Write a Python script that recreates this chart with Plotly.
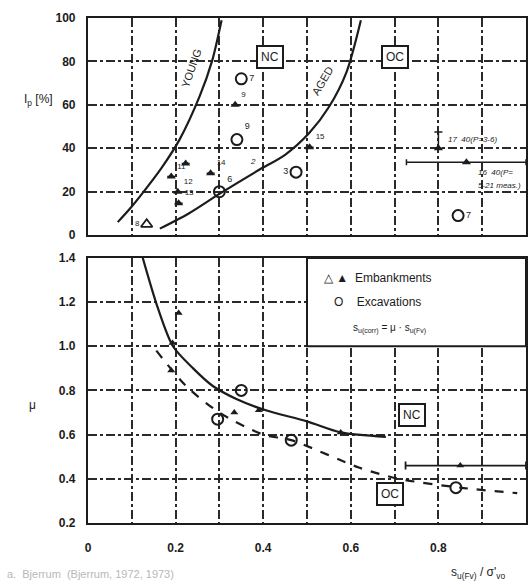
import plotly.graph_objects as go

INK = "#1c1c1c"
FONT = "Liberation Sans"

# ---- upper panel: plasticity index vs. strength ratio ----
young_x = [0.068, 0.097, 0.125, 0.168, 0.209, 0.255, 0.283, 0.305]
young_ip = [6, 12.5, 19.5, 31, 44, 64, 80, 99]
aged_x = [0.164, 0.23, 0.30, 0.39, 0.45, 0.505, 0.55, 0.59, 0.623]
aged_ip = [3, 10, 19, 30, 37, 47, 59, 75, 99]

emb_x = [0.336, 0.28, 0.223, 0.19, 0.205, 0.207, 0.506, 0.80]
emb_ip = [60, 28.5, 33, 27, 20, 14.7, 40.5, 40]
emb_lab = ["9", "14", "", "11", "12", "13", "15", ""]

emb16_x = [0.864]
emb16_ip = [33.6]
emb16_lo = [0.727]
emb16_hi = [1.0]

emb_open_x = [0.134]
emb_open_ip = [5]

exc_x = [0.35, 0.34, 0.30, 0.475, 0.845]
exc_ip = [72, 44, 20, 29, 9]
exc_lab = ["7", "9", "6", "3", "7"]

# ---- lower panel: correction factor mu ----
nc_x = [0.125, 0.16, 0.194, 0.24, 0.285, 0.34, 0.406, 0.5, 0.577, 0.68]
nc_mu = [1.40, 1.17, 1.00, 0.90, 0.82, 0.76, 0.71, 0.66, 0.61, 0.59]
oc_x = [0.156, 0.224, 0.30, 0.40, 0.464, 0.62, 0.71, 0.85, 0.98]
oc_mu = [0.98, 0.82, 0.70, 0.60, 0.575, 0.45, 0.40, 0.36, 0.335]

mu_emb_x = [0.207, 0.193, 0.19, 0.334, 0.39, 0.577]
mu_emb = [1.15, 1.015, 0.89, 0.70, 0.71, 0.61]
mu_emb_range_x = [0.85]
mu_emb_range = [0.46]
mu_emb_range_lo = [0.725]
mu_emb_range_hi = [1.0]

mu_exc_x = [0.296, 0.35, 0.464, 0.84]
mu_exc = [0.67, 0.80, 0.575, 0.36]

ip_ticks = [0, 20, 40, 60, 80, 100]
mu_ticks = [0.2, 0.4, 0.6, 0.8, 1.0, 1.2, 1.4]
x_ticks = [0, 0.2, 0.4, 0.6, 0.8, 1.0]
x_tick_text = ["0", "0.2", "0.4", "0.6", "0.8", "1.0"]

fig = go.Figure()

curve = dict(color=INK, width=2.2, shape="spline", smoothing=0.8)
fig.add_trace(go.Scatter(x=young_x, y=young_ip, mode="lines", line=curve,
                         xaxis="x", yaxis="y"))
fig.add_trace(go.Scatter(x=aged_x, y=aged_ip, mode="lines", line=curve,
                         xaxis="x", yaxis="y"))

tri = dict(symbol="triangle-up", size=8, color=INK)
circ = dict(symbol="circle-open", size=11, color=INK, line=dict(width=2, color=INK))

fig.add_trace(go.Scatter(
    x=emb_x, y=emb_ip, mode="markers+text", marker=tri,
    text=emb_lab, textposition="top right",
    textfont=dict(size=8, color=INK, family=FONT),
    error_y=dict(type="data", symmetric=False,
                 array=[0, 0, 0, 0, 0, 0, 0, 7.5], arrayminus=[0] * 8,
                 color=INK, thickness=1.5, width=4),
    xaxis="x", yaxis="y"))
fig.add_trace(go.Scatter(
    x=emb16_x, y=emb16_ip, mode="markers", marker=tri,
    error_x=dict(type="data", symmetric=False,
                 array=[h - v for h, v in zip(emb16_hi, emb16_x)],
                 arrayminus=[v - l for l, v in zip(emb16_lo, emb16_x)],
                 color=INK, thickness=1.5, width=3),
    xaxis="x", yaxis="y"))
fig.add_trace(go.Scatter(
    x=emb_open_x, y=emb_open_ip, mode="markers+text",
    marker=dict(symbol="triangle-up-open", size=10, color=INK, line=dict(width=1.8)),
    text=["8"], textposition="middle left",
    textfont=dict(size=8, color=INK, family=FONT),
    xaxis="x", yaxis="y"))
fig.add_trace(go.Scatter(
    x=exc_x, y=exc_ip, mode="markers+text", marker=circ,
    text=exc_lab, textposition=["middle right", "top right", "top right",
                                "middle left", "middle right"],
    textfont=dict(size=9, color=INK, family=FONT),
    xaxis="x", yaxis="y"))

fig.add_trace(go.Scatter(x=nc_x, y=nc_mu, mode="lines", line=curve,
                         xaxis="x2", yaxis="y2"))
fig.add_trace(go.Scatter(x=oc_x, y=oc_mu, mode="lines",
                         line=dict(color=INK, width=2.2, dash="dash",
                                   shape="spline", smoothing=0.8),
                         xaxis="x2", yaxis="y2"))
fig.add_trace(go.Scatter(x=mu_emb_x, y=mu_emb, mode="markers",
                         marker=dict(symbol="triangle-up", size=7, color=INK),
                         xaxis="x2", yaxis="y2"))
fig.add_trace(go.Scatter(
    x=mu_emb_range_x, y=mu_emb_range, mode="markers",
    marker=dict(symbol="triangle-up", size=7, color=INK),
    error_x=dict(type="data", symmetric=False,
                 array=[h - v for h, v in zip(mu_emb_range_hi, mu_emb_range_x)],
                 arrayminus=[v - l for l, v in zip(mu_emb_range_lo, mu_emb_range_x)],
                 color=INK, thickness=1.8, width=4),
    xaxis="x2", yaxis="y2"))
fig.add_trace(go.Scatter(x=mu_exc_x, y=mu_exc, mode="markers", marker=circ,
                         xaxis="x2", yaxis="y2"))

GRIDC = "#2a2a2a"
grid = dict(showgrid=True, gridcolor=GRIDC, gridwidth=1.5, griddash="dashdot")
frame = dict(showline=True, linecolor=INK, linewidth=2.2, mirror=True,
             zeroline=False, ticks="")
tickfont = dict(family=FONT, size=12, color=INK, weight="bold")

fig.update_layout(
    width=532, height=583,
    margin=dict(l=88, r=4, t=18, b=60),
    paper_bgcolor="white", plot_bgcolor="white",
    showlegend=False,
    xaxis=dict(domain=[0, 1], range=[0, 1], anchor="y", showticklabels=False,
               tickvals=[0.1 * i for i in range(1, 10)], **grid, **frame),
    yaxis=dict(domain=[0.570, 1], range=[0, 100], anchor="x",
               tickvals=ip_ticks, tickfont=tickfont, ticklabelstandoff=8,
               **grid, **frame),
    xaxis2=dict(domain=[0, 1], range=[0, 1], anchor="y2",
                tickvals=x_ticks, ticktext=x_tick_text, tickfont=tickfont,
                ticklabelstandoff=12,
                minor=dict(tickvals=[0.1 * i for i in range(1, 10)], showgrid=True,
                           gridcolor=GRIDC, gridwidth=1.5, griddash="dashdot"),
                **grid, **frame),
    yaxis2=dict(domain=[0, 0.525], range=[0.2, 1.4], anchor="x2",
                tickvals=mu_ticks, tickformat=".1f", tickfont=tickfont,
                ticklabelstandoff=8, **grid, **frame),
)

# legend box in the lower panel
fig.add_shape(type="rect", xref="x2", yref="y2", x0=0.5, x1=1.0, y0=1.0, y1=1.4,
              fillcolor="white", line=dict(color=INK, width=2), layer="above")

ann = dict(showarrow=False, font=dict(family=FONT, size=12, color=INK))
fig.add_annotation(xref="x2", yref="y2", x=0.535, y=1.31, xanchor="left",
                   text="△ ▲  Embankments", **ann)
fig.add_annotation(xref="x2", yref="y2", x=0.557, y=1.2, xanchor="left",
                   text="O    Excavations", **ann)
fig.add_annotation(xref="x2", yref="y2", x=0.6, y=1.08, xanchor="left",
                   text="s<sub>u(corr)</sub> = μ · s<sub>u(Fv)</sub>",
                   showarrow=False, font=dict(family=FONT, size=10, color=INK))

box = dict(showarrow=False, bgcolor="white", bordercolor=INK, borderwidth=2,
           borderpad=3, font=dict(family=FONT, size=12, color=INK))
fig.add_annotation(xref="x", yref="y", x=0.416, y=82, text="NC", **box)
fig.add_annotation(xref="x", yref="y", x=0.70, y=82, text="OC", **box)
fig.add_annotation(xref="x2", yref="y2", x=0.74, y=0.69, text="NC", **box)
fig.add_annotation(xref="x2", yref="y2", x=0.69, y=0.33, text="OC", **box)

fig.add_annotation(xref="x", yref="y", x=0.236, y=77, text="YOUNG", textangle=-71,
                   showarrow=False, font=dict(family=FONT, size=11, color=INK))
fig.add_annotation(xref="x", yref="y", x=0.535, y=71, text="AGED", textangle=-59,
                   showarrow=False, font=dict(family=FONT, size=11, color=INK))

small = dict(showarrow=False, xanchor="left",
             font=dict(family=FONT, size=8, color=INK, style="italic"))
fig.add_annotation(xref="x", yref="y", x=0.818, y=44, text="17  40(P=3-6)", **small)
fig.add_annotation(xref="x", yref="y", x=0.885, y=29, text="16  40(P=", **small)
fig.add_annotation(xref="x", yref="y", x=0.885, y=23, text="5-21 meas.)", **small)
fig.add_annotation(xref="x", yref="y", x=0.365, y=34, text="2", **small)

fig.add_annotation(xref="paper", yref="paper", x=-0.075, y=0.838,
                   text="I<sub>p</sub> [%]", xanchor="right", yanchor="middle", **ann)
fig.add_annotation(xref="paper", yref="paper", x=-0.114, y=0.234,
                   text="μ", xanchor="right", yanchor="middle", **ann)
fig.add_annotation(xref="paper", yref="paper", x=0.89, y=-0.099,
                   text="s<sub>u(Fv)</sub> / σ'<sub>vo</sub>",
                   xanchor="center", yanchor="middle", **ann)
fig.add_annotation(xref="paper", yref="paper", x=-0.19, y=-0.10, xanchor="left",
                   yanchor="middle",
                   text="a.  Bjerrum  (Bjerrum, 1972, 1973)", showarrow=False,
                   font=dict(family=FONT, size=11, color="#b8b8b8"))

fig.write_html("out.html")
